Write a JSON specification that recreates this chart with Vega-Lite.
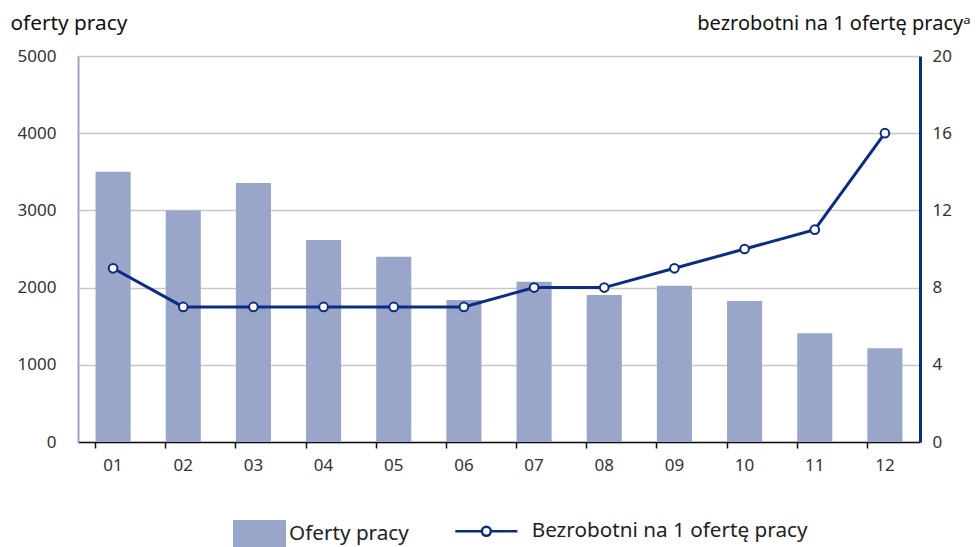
{
  "$schema": "https://vega.github.io/schema/vega-lite/v6.json",
  "width": 842,
  "height": 386,
  "autosize": {"type": "none"},
  "padding": {"left": 78, "top": 56, "right": 59, "bottom": 105},
  "background": "white",
  "config": {
    "view": {"stroke": null},
    "font": "Noto Sans",
    "axis": {"labelColor": "#333333", "titleColor": "#111111", "labelFont": "Noto Sans", "titleFont": "Noto Sans"},
    "legend": {"labelFont": "Noto Sans"}
  },
  "data": {
    "values": [
      {"m": "01", "oferty": 3500, "bezrobotni": 9},
      {"m": "02", "oferty": 3000, "bezrobotni": 7},
      {"m": "03", "oferty": 3355, "bezrobotni": 7},
      {"m": "04", "oferty": 2615, "bezrobotni": 7},
      {"m": "05", "oferty": 2400, "bezrobotni": 7},
      {"m": "06", "oferty": 1840, "bezrobotni": 7},
      {"m": "07", "oferty": 2075, "bezrobotni": 8},
      {"m": "08", "oferty": 1905, "bezrobotni": 8},
      {"m": "09", "oferty": 2025, "bezrobotni": 9},
      {"m": "10", "oferty": 1825, "bezrobotni": 10},
      {"m": "11", "oferty": 1410, "bezrobotni": 11},
      {"m": "12", "oferty": 1215, "bezrobotni": 16}
    ]
  },
  "encoding": {
    "x": {
      "field": "m", "type": "ordinal",
      "scale": {"paddingInner": 0.5, "paddingOuter": 0.25},
      "axis": {
        "title": null, "labelAngle": 0, "bandPosition": 0,
        "domainColor": "#111111", "domainWidth": 1.5,
        "tickColor": "#111111", "tickSize": 6, "tickWidth": 1.5,
        "labelPadding": 9, "labelFontSize": 17, "grid": false
      }
    }
  },
  "layer": [
    {
      "mark": {"type": "bar", "color": "#9aa6c9"},
      "encoding": {
        "y": {
          "field": "oferty", "type": "quantitative",
          "scale": {"domain": [0, 5000], "nice": false},
          "axis": {
            "orient": "left", "values": [0, 1000, 2000, 3000, 4000, 5000], "format": "d",
            "grid": true, "gridColor": "#c8c8c8", "gridWidth": 1.5,
            "domainColor": "#9aa6c9", "domainWidth": 2, "ticks": false,
            "labelPadding": 22, "labelFontSize": 17,
            "title": "oferty pracy", "titleAngle": 0, "titleAlign": "left",
            "titleBaseline": "middle", "titleX": -68, "titleY": -33,
            "titleFontSize": 20.8, "titleFontWeight": "normal"
          }
        },
        "fill": {
          "datum": "Oferty pracy", "type": "nominal",
          "scale": {"range": ["#9aa6c9"]},
          "legend": {
            "title": null, "orient": "none", "legendX": 168, "legendY": 464,
            "symbolType": "M-1.963,-1H1.963V1H-1.963Z", "symbolSize": 729,
            "symbolStrokeWidth": 0, "labelOffset": 16, "labelFontSize": 20.7,
            "labelColor": "#222222", "padding": 0, "labelLimit": 400
          }
        }
      }
    },
    {
      "mark": {"type": "line", "color": "#0c2c84", "strokeWidth": 3},
      "encoding": {
        "y": {
          "field": "bezrobotni", "type": "quantitative",
          "scale": {"domain": [0, 20], "nice": false},
          "axis": {
            "orient": "right", "values": [0, 4, 8, 12, 16, 20],
            "grid": false, "domainColor": "#0c2c84", "domainWidth": 3, "ticks": false,
            "labelPadding": 12, "labelFontSize": 17,
            "title": "bezrobotni na 1 ofertę pracyᵃ", "titleAngle": 0, "titleAlign": "right",
            "titleBaseline": "middle", "titleX": 50, "titleY": -33,
            "titleFontSize": 20, "titleFontWeight": "normal"
          }
        },
        "stroke": {
          "datum": "Bezrobotni na 1 ofertę pracy", "type": "nominal",
          "scale": {"range": ["#0c2c84"]},
          "legend": {
            "title": null, "orient": "none", "legendX": 398, "legendY": 465,
            "symbolType": "M-6.9,0H-1M1,0H6.9M1,0A1,1,0,1,1,-1,0A1,1,0,1,1,1,0Z",
            "symbolSize": 81, "symbolStrokeWidth": 2.5, "symbolFillColor": "white",
            "labelOffset": 35, "labelFontSize": 20.7, "labelColor": "#222222", "padding": 0,
            "labelLimit": 400,
            "encode": {"symbols": {"update": {"fill": {"value": "white"}}}}
          }
        }
      }
    },
    {
      "mark": {"type": "point", "filled": true, "fill": "white", "stroke": "#0c2c84", "strokeWidth": 2, "size": 75, "opacity": 1},
      "encoding": {
        "y": {"field": "bezrobotni", "type": "quantitative", "scale": {"domain": [0, 20], "nice": false}, "axis": null}
      }
    }
  ],
  "resolve": {"scale": {"y": "independent", "fill": "independent", "stroke": "independent"}, "legend": {"fill": "independent", "stroke": "independent"}}
}
